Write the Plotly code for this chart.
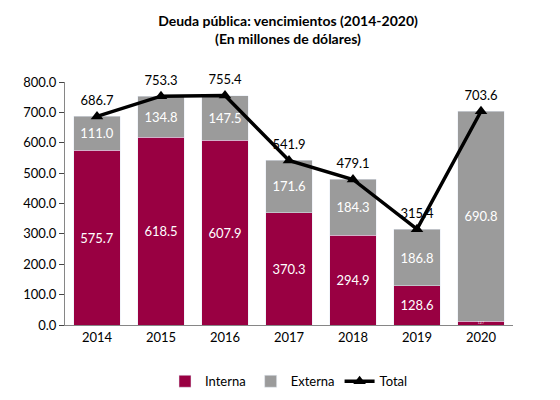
import plotly.graph_objects as go

years = ["2014", "2015", "2016", "2017", "2018", "2019", "2020"]
interna = [575.7, 618.5, 607.9, 370.3, 294.9, 128.6, 12.7]
externa = [111.0, 134.8, 147.5, 171.6, 184.3, 186.8, 690.8]
total = [686.7, 753.3, 755.4, 541.9, 479.1, 315.4, 703.6]

maroon = "#990042"
grey = "#9B9B9B"

fig = go.Figure()
fig.add_trace(go.Bar(
    x=years, y=interna, name="Interna",
    marker_color=maroon,
    text=[f"{v:.1f}" for v in interna], textposition="inside",
    insidetextanchor="middle",
    textfont=dict(color="white", size=13),
))
fig.add_trace(go.Bar(
    x=years, y=externa, name="Externa",
    marker_color=grey,
    text=[f"{v:.1f}" for v in externa], textposition="inside",
    insidetextanchor="middle",
    textfont=dict(color="white", size=13),
))
fig.add_trace(go.Scatter(
    x=years, y=total, name="Total",
    mode="lines+markers+text",
    line=dict(color="black", width=3.5),
    marker=dict(symbol="triangle-up", size=11, color="black"),
    text=[f"{v:.1f}" for v in total], textposition="top center",
    textfont=dict(color="black", size=13),
    cliponaxis=False,
))

fig.update_layout(
    width=560, height=400,
    margin=dict(l=57, r=55, t=74, b=78),
    barmode="stack",
    bargap=0.27,
    plot_bgcolor="white",
    font=dict(family="Lato", size=13, color="black"),
    title=dict(text="<b>Deuda pública: vencimientos (2014-2020)<br>(En millones de dólares)</b>",
               x=0.5, y=0.955, yanchor="top", font=dict(size=14)),
    yaxis=dict(range=[0, 800], dtick=100, tickformat=".1f", showline=True,
               linecolor="#868686", ticks="outside", showgrid=False),
    xaxis=dict(showline=True, linecolor="#868686"),
    legend=dict(orientation="h", x=0.5, xanchor="center", y=-0.17, traceorder="normal"),
)

fig.write_html("out.html")
